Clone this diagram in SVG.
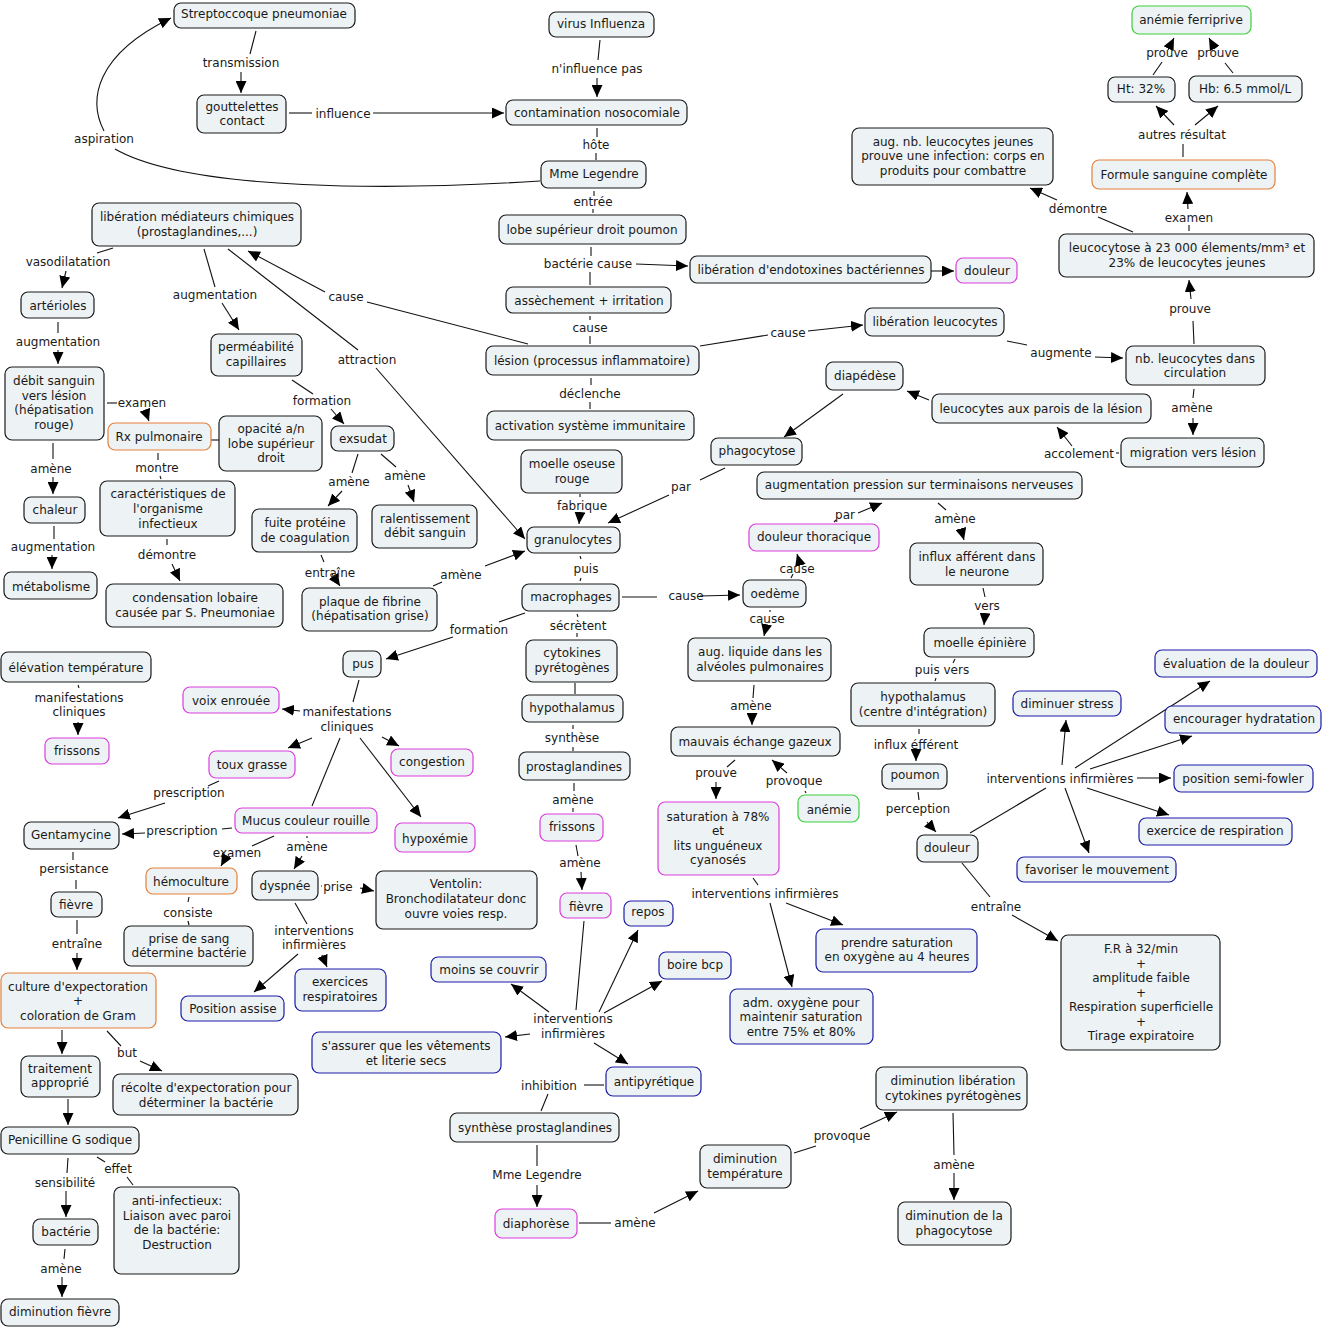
<svg xmlns="http://www.w3.org/2000/svg" width="1326" height="1328" viewBox="0 0 1326 1328">
<style>
rect{fill:#edf2f4;stroke:#1a1a1a;stroke-width:1.2}
.g rect{stroke:#3ccf3c}
.o rect{stroke:#e5803a}
.m rect{stroke:#dc3ddc}
.b rect{stroke:#1c1ca8}
text{font-family:"DejaVu Sans",Verdana,sans-serif;font-size:12px;fill:#1a1a1a;text-anchor:middle}
#conn path{fill:none;stroke:#111;stroke-width:1.1}
#conn path.a{marker-end:url(#ar)}
</style>
<defs>
<marker id="ar" markerUnits="userSpaceOnUse" markerWidth="12" markerHeight="11" viewBox="0 0 12 11" refX="12" refY="5.5" orient="auto"><path d="M0,0 L12,5.5 L0,11 Z" fill="#000"/></marker>
</defs>
<rect x="0" y="0" width="1326" height="1328" style="fill:#fff;stroke:none"/>
<g id="conn">
<path d="M256,31 L250,54"/><path class="a" d="M241,72 L241,93"/>
<path d="M289,113 L312,113"/><path class="a" d="M373,113 L504,113"/>
<path d="M600,40 L598,60"/><path class="a" d="M597,78 L597,97"/>
<path d="M597,128 L597,137"/><path d="M596,153 L596,160"/>
<path d="M540,181 C400,190 190,192 115,149"/><path class="a" d="M104,131 C88,100 95,55 171,18"/>
<path d="M594,191 L594,196"/><path d="M593,209 L593,213"/>
<path d="M591,247 L591,256"/><path d="M590,272 L590,285"/><path class="a" d="M636,264 L688,266"/>
<path class="a" d="M931,271 L954,271"/>
<path d="M590,316 L590,320"/><path d="M590,336 L590,344"/>
<path d="M528,344 L367,302"/><path class="a" d="M325,292 L248,251"/>
<path d="M700,346 L768,335"/><path class="a" d="M808,331 L863,325"/>
<path d="M591,378 L591,385"/><path d="M590,402 L590,409"/>
<path d="M113,248 L97,253"/><path class="a" d="M66,271 L62,288"/>
<path d="M204,249 L215,287"/><path class="a" d="M222,303 L239,330"/>
<path d="M228,249 L358,350"/><path class="a" d="M376,368 L525,539"/>
<path d="M58,322 L58,333"/><path class="a" d="M58,350 L58,364"/>
<path d="M107,403 L117,403"/><path class="a" d="M145,410 L149,421"/>
<path d="M211,440 L219,440"/>
<path d="M158,453 L158,460"/><path d="M160,476 L161,479"/>
<path d="M53,443 L53,459"/><path class="a" d="M53,477 L53,494"/>
<path d="M54,526 L54,539"/><path class="a" d="M52,555 L52,569"/>
<path d="M167,539 L167,545"/><path class="a" d="M172,564 L180,581"/>
<path d="M292,380 L313,394"/><path class="a" d="M331,409 L344,424"/>
<path d="M358,454 L352,473"/><path class="a" d="M342,491 L328,506"/>
<path d="M381,454 L396,467"/><path class="a" d="M408,485 L414,502"/>
<path d="M321,555 L324,562"/><path class="a" d="M332,574 L340,586"/>
<path d="M433,586 L442,582"/><path class="a" d="M485,566 L525,551"/>
<path d="M580,494 L580,497"/><path class="a" d="M580,512 L579,524"/>
<path d="M725,468 L700,480"/><path class="a" d="M669,495 L608,523"/>
<path class="a" d="M843,394 L784,437"/>
<path class="a" d="M929,400 L907,391"/>
<path d="M1119,453 L1116,453"/><path class="a" d="M1072,446 L1057,427"/>
<path d="M1194,389 L1193,398"/><path class="a" d="M1193,418 L1193,435"/>
<path d="M1007,341 L1027,345"/><path class="a" d="M1095,357 L1123,358"/>
<path d="M1194,344 L1193,321"/><path class="a" d="M1191,299 L1189,280"/>
<path d="M1189,231 L1189,225"/><path class="a" d="M1188,209 L1187,192"/>
<path d="M1133,232 L1098,217"/><path class="a" d="M1057,200 L1030,188"/>
<path d="M1183,157 L1183,144"/><path class="a" d="M1174,125 L1156,106"/><path class="a" d="M1195,125 L1218,106"/>
<path d="M1153,75 L1162,62"/><path class="a" d="M1168,50 L1174,38"/>
<path d="M1233,73 L1225,63"/><path class="a" d="M1215,49 L1209,38"/>
<path d="M970,833 L1046,788"/><path class="a" d="M1062,765 L1066,720"/><path class="a" d="M1075,768 L1210,681"/><path class="a" d="M1090,769 L1192,736"/><path class="a" d="M1137,778 L1171,778"/><path class="a" d="M1087,788 L1169,815"/><path class="a" d="M1065,788 L1089,853"/>
<path d="M955,659 L953,663"/><path d="M936,678 L935,681"/>
<path d="M983,588 L985,597"/><path class="a" d="M985,614 L984,625"/>
<path d="M938,503 L946,510"/><path class="a" d="M961,529 L964,540"/>
<path d="M834,522 L836,520"/><path class="a" d="M858,513 L882,503"/>
<path d="M791,578 L793,574"/><path class="a" d="M800,564 L797,554"/>
<path d="M770,610 L770,612"/><path class="a" d="M766,627 L764,636"/>
<path d="M622,597 L657,597"/><path class="a" d="M700,596 L740,595"/>
<path d="M580,556 L581,559"/><path d="M581,578 L580,581"/>
<path d="M525,613 L499,622"/><path class="a" d="M453,637 L386,659"/>
<path d="M577,614 L578,617"/><path d="M577,633 L577,637"/>
<path d="M575,683 L575,694"/>
<path d="M573,725 L573,729"/><path d="M573,747 L573,751"/>
<path d="M574,783 L574,791"/><path d="M573,808 L573,812"/>
<path d="M576,845 L578,856"/><path class="a" d="M581,872 L582,890"/>
<path d="M584,921 L576,1010"/><path class="a" d="M599,1012 L638,930"/><path class="a" d="M604,1013 L662,981"/><path class="a" d="M549,1012 L511,984"/><path class="a" d="M530,1034 L505,1037"/><path class="a" d="M594,1043 L628,1064"/>
<path d="M754,685 L753,698"/><path class="a" d="M752,714 L752,725"/>
<path d="M735,760 L727,767"/><path class="a" d="M716,782 L716,799"/>
<path d="M806,793 L805,791"/><path class="a" d="M787,773 L772,760"/>
<path d="M753,878 L758,885"/><path class="a" d="M786,903 L843,925"/><path class="a" d="M770,903 L792,987"/>
<path d="M919,729 L919,734"/><path class="a" d="M916,753 L916,761"/>
<path d="M918,792 L919,800"/><path class="a" d="M927,822 L936,832"/>
<path d="M962,863 L990,897"/><path class="a" d="M1012,915 L1058,941"/>
<path d="M359,680 L353,702"/><path class="a" d="M300,711 L282,709"/><path class="a" d="M312,738 L288,748"/><path class="a" d="M382,737 L399,746"/><path class="a" d="M360,738 L421,817"/><path d="M340,738 L312,806"/>
<path d="M78,685 L79,688"/><path class="a" d="M78,722 L78,735"/>
<path d="M219,781 L208,786"/><path class="a" d="M165,803 L118,818"/>
<path d="M232,828 L222,829"/><path class="a" d="M145,833 L122,834"/>
<path d="M274,836 L252,846"/><path class="a" d="M226,857 L221,866"/>
<path d="M307,836 L307,838"/><path class="a" d="M302,856 L294,869"/>
<path d="M321,886 L322,886"/><path class="a" d="M360,888 L374,891"/>
<path d="M295,903 L307,924"/><path class="a" d="M298,954 L254,992"/><path class="a" d="M322,955 L327,967"/>
<path d="M189,897 L188,902"/><path d="M188,921 L189,925"/>
<path d="M73,852 L73,860"/><path d="M76,880 L76,889"/>
<path d="M77,920 L77,934"/><path class="a" d="M77,953 L77,970"/>
<path class="a" d="M62,1030 L62,1054"/>
<path d="M107,1031 L121,1046"/><path class="a" d="M140,1061 L162,1071"/>
<path class="a" d="M68,1099 L68,1125"/>
<path d="M68,1158 L67,1173"/><path class="a" d="M66,1191 L66,1217"/>
<path d="M97,1157 L105,1162"/><path d="M127,1177 L133,1185"/>
<path d="M65,1249 L64,1259"/><path class="a" d="M62,1277 L62,1297"/>
<path d="M604,1085 L584,1085"/><path d="M548,1094 L541,1111"/>
<path d="M537,1145 L537,1166"/><path class="a" d="M537,1185 L537,1207"/>
<path d="M579,1223 L611,1223"/><path class="a" d="M654,1213 L698,1191"/>
<path d="M794,1153 L816,1146"/><path class="a" d="M860,1129 L897,1112"/>
<path d="M953,1113 L954,1155"/><path class="a" d="M954,1173 L954,1200"/>
</g>
<g id="labels">
<text x="241" y="67">transmission</text>
<text x="343" y="118">influence</text>
<text x="597" y="73">n'influence pas</text>
<text x="596" y="149">hôte</text>
<text x="104" y="143">aspiration</text>
<text x="593" y="206">entrée</text>
<text x="588" y="268">bactérie cause</text>
<text x="590" y="332">cause</text>
<text x="346" y="301">cause</text>
<text x="788" y="337">cause</text>
<text x="590" y="398">déclenche</text>
<text x="68" y="266">vasodilatation</text>
<text x="215" y="299">augmentation</text>
<text x="367" y="364">attraction</text>
<text x="58" y="346">augmentation</text>
<text x="142" y="407">examen</text>
<text x="157" y="472">montre</text>
<text x="51" y="473">amène</text>
<text x="53" y="551">augmentation</text>
<text x="167" y="559">démontre</text>
<text x="322" y="405">formation</text>
<text x="349" y="486">amène</text>
<text x="405" y="480">amène</text>
<text x="330" y="577">entraîne</text>
<text x="461" y="579">amène</text>
<text x="582" y="510">fabrique</text>
<text x="681" y="491">par</text>
<text x="1079" y="458">accolement</text>
<text x="1192" y="412">amène</text>
<text x="1061" y="357">augmente</text>
<text x="1190" y="313">prouve</text>
<text x="1189" y="222">examen</text>
<text x="1078" y="213">démontre</text>
<text x="1182" y="139">autres résultat</text>
<text x="1167" y="57">prouve</text>
<text x="1218" y="57">prouve</text>
<text x="1060" y="783">interventions infirmières</text>
<text x="942" y="674">puis vers</text>
<text x="987" y="610">vers</text>
<text x="955" y="523">amène</text>
<text x="845" y="519">par</text>
<text x="797" y="573">cause</text>
<text x="767" y="623">cause</text>
<text x="686" y="600">cause</text>
<text x="586" y="573">puis</text>
<text x="479" y="634">formation</text>
<text x="578" y="630">sécrètent</text>
<text x="572" y="742">synthèse</text>
<text x="573" y="804">amène</text>
<text x="580" y="867">amène</text>
<text x="573" y="1023">interventions</text>
<text x="573" y="1038">infirmières</text>
<text x="751" y="710">amène</text>
<text x="716" y="777">prouve</text>
<text x="794" y="785">provoque</text>
<text x="765" y="898">interventions infirmières</text>
<text x="916" y="749">influx éfférent</text>
<text x="918" y="813">perception</text>
<text x="996" y="911">entraîne</text>
<text x="347" y="716">manifestations</text>
<text x="347" y="731">cliniques</text>
<text x="79" y="702">manifestations</text>
<text x="79" y="716">cliniques</text>
<text x="189" y="797">prescription</text>
<text x="182" y="835">prescription</text>
<text x="237" y="857">examen</text>
<text x="307" y="851">amène</text>
<text x="338" y="891">prise</text>
<text x="314" y="935">interventions</text>
<text x="314" y="949">infirmières</text>
<text x="188" y="917">consiste</text>
<text x="74" y="873">persistance</text>
<text x="77" y="948">entraîne</text>
<text x="127" y="1057">but</text>
<text x="65" y="1187">sensibilité</text>
<text x="118" y="1173">effet</text>
<text x="61" y="1273">amène</text>
<text x="549" y="1090">inhibition</text>
<text x="537" y="1179">Mme Legendre</text>
<text x="635" y="1227">amène</text>
<text x="842" y="1140">provoque</text>
<text x="954" y="1169">amène</text>
</g>
<g id="n_strep"><rect x="174" y="3" width="181" height="25" rx="7"/><text x="264" y="18">Streptoccoque pneumoniae</text></g>
<g id="n_virus"><rect x="549" y="12" width="105" height="25" rx="7"/><text x="601" y="28">virus Influenza</text></g>
<g id="n_anemieF" class="g"><rect x="1132" y="6" width="119" height="28" rx="7"/><text x="1191" y="24">anémie ferriprive</text></g>
<g id="n_goutt"><rect x="197" y="95" width="89" height="38" rx="7"/><text x="242" y="111">gouttelettes</text><text x="242" y="125">contact</text></g>
<g id="n_contam"><rect x="506" y="100" width="181" height="25" rx="7"/><text x="597" y="117">contamination nosocomiale</text></g>
<g id="n_ht"><rect x="1108" y="77" width="67" height="25" rx="7"/><text x="1141" y="93">Ht: 32%</text></g>
<g id="n_hb"><rect x="1189" y="76" width="113" height="26" rx="7"/><text x="1245" y="93">Hb: 6.5 mmol/L</text></g>
<g id="n_augnb"><rect x="852" y="128" width="201" height="57" rx="7"/><text x="953" y="146">aug. nb. leucocytes jeunes</text><text x="953" y="160">prouve une infection: corps en</text><text x="953" y="175">produits pour combattre</text></g>
<g id="n_mme"><rect x="541" y="161" width="105" height="27" rx="7"/><text x="594" y="178">Mme Legendre</text></g>
<g id="n_formule" class="o"><rect x="1092" y="160" width="183" height="29" rx="7"/><text x="1184" y="179">Formule sanguine complète</text></g>
<g id="n_libmed"><rect x="92" y="203" width="209" height="43" rx="7"/><text x="197" y="221">libération médiateurs chimiques</text><text x="197" y="236">(prostaglandines,...)</text></g>
<g id="n_lobe"><rect x="499" y="215" width="187" height="29" rx="7"/><text x="592" y="234">lobe supérieur droit poumon</text></g>
<g id="n_leucocytose"><rect x="1059" y="234" width="255" height="43" rx="7"/><text x="1187" y="252">leucocytose à 23 000 élements/mm³ et</text><text x="1187" y="267">23% de leucocytes jeunes</text></g>
<g id="n_endo"><rect x="690" y="256" width="241" height="27" rx="7"/><text x="811" y="274">libération d'endotoxines bactériennes</text></g>
<g id="n_douleur1" class="m"><rect x="956" y="258" width="61" height="25" rx="7"/><text x="987" y="275">douleur</text></g>
<g id="n_assech"><rect x="506" y="287" width="165" height="26" rx="7"/><text x="589" y="305">assèchement + irritation</text></g>
<g id="n_arter"><rect x="21" y="292" width="73" height="26" rx="7"/><text x="58" y="310">artérioles</text></g>
<g id="n_libleu"><rect x="865" y="308" width="139" height="28" rx="7"/><text x="935" y="326">libération leucocytes</text></g>
<g id="n_perm"><rect x="211" y="334" width="91" height="42" rx="7"/><text x="256" y="351">perméabilité</text><text x="256" y="366">capillaires</text></g>
<g id="n_lesion"><rect x="486" y="346" width="213" height="29" rx="7"/><text x="592" y="365">lésion (processus inflammatoire)</text></g>
<g id="n_diaped"><rect x="826" y="362" width="77" height="28" rx="7"/><text x="865" y="380">diapédèse</text></g>
<g id="n_nbleu"><rect x="1126" y="346" width="139" height="39" rx="7"/><text x="1195" y="363">nb. leucocytes dans</text><text x="1195" y="377">circulation</text></g>
<g id="n_debit"><rect x="5" y="367" width="99" height="73" rx="7"/><text x="54" y="385">débit sanguin</text><text x="54" y="400">vers lésion</text><text x="54" y="414">(hépatisation</text><text x="54" y="429">rouge)</text></g>
<g id="n_parois"><rect x="932" y="394" width="219" height="29" rx="7"/><text x="1041" y="413">leucocytes aux parois de la lésion</text></g>
<g id="n_rx" class="o"><rect x="108" y="423" width="103" height="27" rx="7"/><text x="159" y="441">Rx pulmonaire</text></g>
<g id="n_opac"><rect x="219" y="416" width="103" height="55" rx="7"/><text x="271" y="433">opacité a/n</text><text x="271" y="448">lobe supérieur</text><text x="271" y="462">droit</text></g>
<g id="n_exsudat"><rect x="331" y="426" width="63" height="25" rx="7"/><text x="363" y="443">exsudat</text></g>
<g id="n_activ"><rect x="487" y="411" width="207" height="29" rx="7"/><text x="590" y="430">activation système immunitaire</text></g>
<g id="n_phago"><rect x="711" y="438" width="91" height="27" rx="7"/><text x="757" y="455">phagocytose</text></g>
<g id="n_migr"><rect x="1121" y="438" width="143" height="29" rx="7"/><text x="1193" y="457">migration vers lésion</text></g>
<g id="n_moelle"><rect x="521" y="450" width="101" height="43" rx="7"/><text x="572" y="468">moelle oseuse</text><text x="572" y="483">rouge</text></g>
<g id="n_augpress"><rect x="757" y="472" width="325" height="27" rx="7"/><text x="919" y="489">augmentation pression sur terminaisons nerveuses</text></g>
<g id="n_chaleur"><rect x="24" y="497" width="61" height="26" rx="7"/><text x="55" y="514">chaleur</text></g>
<g id="n_caract"><rect x="100" y="481" width="135" height="55" rx="7"/><text x="168" y="498">caractéristiques de</text><text x="168" y="513">l'organisme</text><text x="168" y="528">infectieux</text></g>
<g id="n_fuite"><rect x="252" y="509" width="105" height="43" rx="7"/><text x="305" y="527">fuite protéine</text><text x="305" y="542">de coagulation</text></g>
<g id="n_ralent"><rect x="372" y="505" width="105" height="43" rx="7"/><text x="425" y="523">ralentissement</text><text x="425" y="537">débit sanguin</text></g>
<g id="n_granulo"><rect x="527" y="527" width="93" height="26" rx="7"/><text x="573" y="544">granulocytes</text></g>
<g id="n_doulth" class="m"><rect x="749" y="524" width="130" height="27" rx="7"/><text x="814" y="541">douleur thoracique</text></g>
<g id="n_influx"><rect x="910" y="543" width="133" height="42" rx="7"/><text x="977" y="561">influx afférent dans</text><text x="977" y="576">le neurone</text></g>
<g id="n_metab"><rect x="4" y="572" width="93" height="27" rx="7"/><text x="51" y="591">métabolisme</text></g>
<g id="n_conden"><rect x="106" y="584" width="177" height="43" rx="7"/><text x="195" y="602">condensation lobaire</text><text x="195" y="617">causée par S. Pneumoniae</text></g>
<g id="n_plaque"><rect x="302" y="588" width="135" height="43" rx="7"/><text x="370" y="606">plaque de fibrine</text><text x="370" y="620">(hépatisation grise)</text></g>
<g id="n_macro"><rect x="522" y="584" width="97" height="27" rx="7"/><text x="571" y="601">macrophages</text></g>
<g id="n_oedeme"><rect x="743" y="580" width="63" height="27" rx="7"/><text x="775" y="598">oedème</text></g>
<g id="n_moelleep"><rect x="924" y="628" width="110" height="29" rx="7"/><text x="980" y="647">moelle épinière</text></g>
<g id="n_pus"><rect x="343" y="651" width="38" height="26" rx="7"/><text x="363" y="668">pus</text></g>
<g id="n_cyto"><rect x="526" y="640" width="91" height="42" rx="7"/><text x="572" y="657">cytokines</text><text x="572" y="672">pyrétogènes</text></g>
<g id="n_augliq"><rect x="688" y="638" width="143" height="43" rx="7"/><text x="760" y="656">aug. liquide dans les</text><text x="760" y="671">alvéoles pulmonaires</text></g>
<g id="n_elev"><rect x="1" y="652" width="150" height="30" rx="7"/><text x="76" y="672">élévation température</text></g>
<g id="n_eval" class="b"><rect x="1155" y="650" width="162" height="27" rx="7"/><text x="1236" y="668">évaluation de la douleur</text></g>
<g id="n_voix" class="m"><rect x="183" y="687" width="96" height="26" rx="7"/><text x="231" y="705">voix enrouée</text></g>
<g id="n_hypo"><rect x="522" y="695" width="101" height="27" rx="7"/><text x="572" y="712">hypothalamus</text></g>
<g id="n_hypoC"><rect x="851" y="683" width="144" height="43" rx="7"/><text x="923" y="701">hypothalamus</text><text x="923" y="716">(centre d'intégration)</text></g>
<g id="n_stress" class="b"><rect x="1013" y="691" width="108" height="25" rx="7"/><text x="1067" y="708">diminuer stress</text></g>
<g id="n_hydra" class="b"><rect x="1165" y="706" width="156" height="27" rx="7"/><text x="1244" y="723">encourager hydratation</text></g>
<g id="n_echange"><rect x="671" y="727" width="169" height="29" rx="7"/><text x="755" y="746">mauvais échange gazeux</text></g>
<g id="n_toux" class="m"><rect x="209" y="751" width="86" height="27" rx="7"/><text x="252" y="769">toux grasse</text></g>
<g id="n_congest" class="m"><rect x="391" y="749" width="82" height="27" rx="7"/><text x="432" y="766">congestion</text></g>
<g id="n_prosta"><rect x="519" y="752" width="111" height="28" rx="7"/><text x="574" y="771">prostaglandines</text></g>
<g id="n_poumon"><rect x="882" y="764" width="65" height="25" rx="7"/><text x="915" y="779">poumon</text></g>
<g id="n_fowler" class="b"><rect x="1174" y="765" width="139" height="27" rx="7"/><text x="1243" y="783">position semi-fowler</text></g>
<g id="n_anemie" class="g"><rect x="798" y="795" width="61" height="27" rx="7"/><text x="829" y="814">anémie</text></g>
<g id="n_satur" class="m"><rect x="658" y="802" width="121" height="73" rx="7"/><text x="718" y="821">saturation à 78%</text><text x="718" y="835">et</text><text x="718" y="850">lits unguéneux</text><text x="718" y="864">cyanosés</text></g>
<g id="n_genta"><rect x="24" y="822" width="95" height="27" rx="7"/><text x="71" y="839">Gentamycine</text></g>
<g id="n_mucus" class="m"><rect x="235" y="808" width="142" height="25" rx="7"/><text x="306" y="825">Mucus couleur rouille</text></g>
<g id="n_hypox" class="m"><rect x="395" y="823" width="80" height="29" rx="7"/><text x="435" y="843">hypoxémie</text></g>
<g id="n_exresp" class="b"><rect x="1139" y="818" width="153" height="27" rx="7"/><text x="1215" y="835">exercice de respiration</text></g>
<g id="n_douleur2"><rect x="917" y="835" width="61" height="27" rx="7"/><text x="947" y="852">douleur</text></g>
<g id="n_hemo" class="o"><rect x="146" y="868" width="91" height="26" rx="7"/><text x="191" y="886">hémoculture</text></g>
<g id="n_dysp"><rect x="252" y="871" width="66" height="29" rx="7"/><text x="285" y="890">dyspnée</text></g>
<g id="n_vento"><rect x="376" y="871" width="161" height="58" rx="7"/><text x="456" y="888">Ventolin:</text><text x="456" y="903">Bronchodilatateur donc</text><text x="456" y="918">ouvre voies resp.</text></g>
<g id="n_favor" class="b"><rect x="1017" y="857" width="159" height="25" rx="7"/><text x="1097" y="874">favoriser le mouvement</text></g>
<g id="n_fievre1"><rect x="51" y="892" width="51" height="25" rx="7"/><text x="76" y="909">fièvre</text></g>
<g id="n_friss2" class="m"><rect x="540" y="814" width="63" height="27" rx="7"/><text x="572" y="831">frissons</text></g>
<g id="n_fievre2" class="m"><rect x="560" y="893" width="51" height="25" rx="7"/><text x="586" y="911">fièvre</text></g>
<g id="n_repos" class="b"><rect x="624" y="901" width="49" height="25" rx="7"/><text x="648" y="916">repos</text></g>
<g id="n_prisesang"><rect x="124" y="926" width="129" height="40" rx="7"/><text x="189" y="943">prise de sang</text><text x="189" y="957">détermine bactérie</text></g>
<g id="n_prendre" class="b"><rect x="816" y="929" width="161" height="43" rx="7"/><text x="897" y="947">prendre saturation</text><text x="897" y="961">en oxygène au 4 heures</text></g>
<g id="n_fr"><rect x="1061" y="935" width="159" height="115" rx="7"/><text x="1141" y="953">F.R à 32/min</text><text x="1141" y="968">+</text><text x="1141" y="982">amplitude faible</text><text x="1141" y="997">+</text><text x="1141" y="1011">Respiration superficielle</text><text x="1141" y="1026">+</text><text x="1141" y="1040">Tirage expiratoire</text></g>
<g id="n_boire" class="b"><rect x="659" y="952" width="72" height="27" rx="7"/><text x="695" y="969">boire bcp</text></g>
<g id="n_moins" class="b"><rect x="431" y="957" width="115" height="25" rx="7"/><text x="489" y="974">moins se couvrir</text></g>
<g id="n_exresp2" class="b"><rect x="295" y="969" width="91" height="42" rx="7"/><text x="340" y="986">exercices</text><text x="340" y="1001">respiratoires</text></g>
<g id="n_assise" class="b"><rect x="181" y="996" width="103" height="25" rx="7"/><text x="233" y="1013">Position assise</text></g>
<g id="n_culture" class="o"><rect x="1" y="973" width="155" height="55" rx="7"/><text x="78" y="991">culture d'expectoration</text><text x="78" y="1005">+</text><text x="78" y="1020">coloration de Gram</text></g>
<g id="n_adm" class="b"><rect x="730" y="989" width="143" height="55" rx="7"/><text x="801" y="1007">adm. oxygène pour</text><text x="801" y="1021">maintenir saturation</text><text x="801" y="1036">entre 75% et 80%</text></g>
<g id="n_sassurer" class="b"><rect x="312" y="1032" width="189" height="41" rx="7"/><text x="406" y="1050">s'assurer que les vêtements</text><text x="406" y="1065">et literie secs</text></g>
<g id="n_trait"><rect x="21" y="1056" width="79" height="41" rx="7"/><text x="60" y="1073">traitement</text><text x="60" y="1087">approprié</text></g>
<g id="n_recolte"><rect x="113" y="1074" width="185" height="41" rx="7"/><text x="206" y="1092">récolte d'expectoration pour</text><text x="206" y="1107">déterminer la bactérie</text></g>
<g id="n_antipy" class="b"><rect x="606" y="1067" width="95" height="29" rx="7"/><text x="654" y="1086">antipyrétique</text></g>
<g id="n_dimlib"><rect x="876" y="1067" width="151" height="43" rx="7"/><text x="953" y="1085">diminution libération</text><text x="953" y="1100">cytokines pyrétogènes</text></g>
<g id="n_penic"><rect x="1" y="1127" width="138" height="27" rx="7"/><text x="70" y="1144">Penicilline G sodique</text></g>
<g id="n_synth"><rect x="450" y="1113" width="169" height="29" rx="7"/><text x="535" y="1132">synthèse prostaglandines</text></g>
<g id="n_dimtemp"><rect x="700" y="1145" width="91" height="43" rx="7"/><text x="745" y="1163">diminution</text><text x="745" y="1178">température</text></g>
<g id="n_anti"><rect x="114" y="1187" width="125" height="87" rx="7"/><text x="177" y="1205">anti-infectieux:</text><text x="177" y="1220">Liaison avec paroi</text><text x="177" y="1234">de la bactérie:</text><text x="177" y="1249">Destruction</text></g>
<g id="n_bact"><rect x="33" y="1219" width="65" height="26" rx="7"/><text x="66" y="1236">bactérie</text></g>
<g id="n_diaph" class="m"><rect x="495" y="1209" width="82" height="29" rx="7"/><text x="536" y="1228">diaphorèse</text></g>
<g id="n_dimphago"><rect x="898" y="1202" width="113" height="43" rx="7"/><text x="954" y="1220">diminution de la</text><text x="954" y="1235">phagocytose</text></g>
<g id="n_dimfiev"><rect x="1" y="1299" width="118" height="27" rx="7"/><text x="60" y="1316">diminution fièvre</text></g>
<g id="n_friss1" class="m"><rect x="45" y="738" width="64" height="26" rx="7"/><text x="77" y="755">frissons</text></g>
</svg>
